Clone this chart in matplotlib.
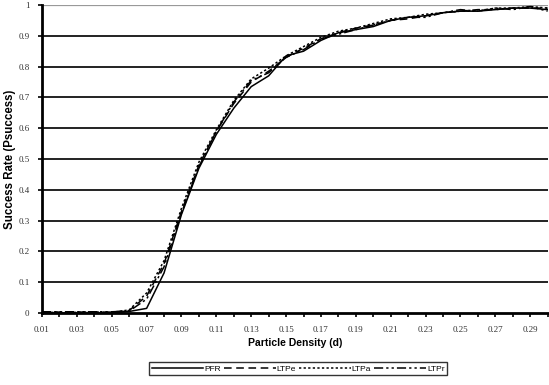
import matplotlib
matplotlib.use("Agg")
from matplotlib import pyplot as plt

# particle density d = 0.01 .. 0.30
density = [round(0.01 * i, 2) for i in range(1, 31)]

pfr = [0, 0, 0, 0, 0, 0.005, 0.015, 0.13, 0.32, 0.47,
       0.58, 0.665, 0.735, 0.77, 0.835, 0.85, 0.885, 0.91, 0.92, 0.93,
       0.95, 0.96, 0.965, 0.975, 0.98, 0.98, 0.985, 0.99, 0.99, 0.985]
ltpe = [0.003, 0.003, 0.003, 0.003, 0.003, 0.008, 0.055, 0.16, 0.33, 0.48,
        0.59, 0.68, 0.75, 0.785, 0.83, 0.86, 0.89, 0.91, 0.925, 0.935,
        0.95, 0.955, 0.965, 0.975, 0.98, 0.985, 0.985, 0.99, 0.99, 0.99]
ltpa = [0.002, 0.002, 0.002, 0.002, 0.002, 0.01, 0.065, 0.17, 0.34, 0.49,
        0.595, 0.69, 0.76, 0.795, 0.835, 0.865, 0.895, 0.915, 0.925, 0.94,
        0.955, 0.96, 0.97, 0.975, 0.98, 0.98, 0.99, 0.99, 0.995, 0.99]
ltpr = [0.004, 0.004, 0.004, 0.004, 0.004, 0.006, 0.045, 0.15, 0.325, 0.475,
        0.59, 0.685, 0.755, 0.78, 0.83, 0.855, 0.89, 0.905, 0.92, 0.935,
        0.95, 0.96, 0.96, 0.975, 0.985, 0.98, 0.99, 0.985, 0.995, 0.98]

xtick_vals = [0.01, 0.03, 0.05, 0.07, 0.09, 0.11, 0.13, 0.15, 0.17, 0.19,
              0.21, 0.23, 0.25, 0.27, 0.29]
ytick_vals = [0, 0.1, 0.2, 0.3, 0.4, 0.5, 0.6, 0.7, 0.8, 0.9, 1]
ytick_labels = ["0", "0.1", "0.2", "0.3", "0.4", "0.5", "0.6", "0.7", "0.8", "0.9", "1"]

fig = plt.figure(figsize=(5.49, 3.85), dpi=100)
ax = fig.add_axes([0.0765, 0.187, 0.921, 0.8])

for v in ytick_vals[1:-1]:
    ax.axhline(v, color="#222222", lw=1.4, zorder=1)
ax.axhline(1, color="#999999", lw=1.6, zorder=1)

ax.plot(density, pfr, color="black", lw=1.1, ls="-", label="PFR", zorder=3)
ax.plot(density, ltpe, color="black", lw=1.1, ls=(0, (5, 3)), label="LTPe", zorder=3)
ax.plot(density, ltpa, color="black", lw=1.1, ls=(0, (1.5, 1.5)), label="LTPa", zorder=3)
ax.plot(density, ltpr, color="black", lw=1.1, ls=(0, (6, 2, 1.5, 2, 1.5, 2)), label="LTPr", zorder=3)

ax.set_xlim(0.01, 0.2963)
ax.set_ylim(0, 1)
ax.set_xticks(xtick_vals)
ax.set_xticklabels(["%.2f" % v for v in xtick_vals])
ax.set_xticks(density, minor=True)
ax.set_yticks(ytick_vals)
ax.set_yticklabels(ytick_labels)

for side in ["top", "right"]:
    ax.spines[side].set_visible(False)
ax.spines["left"].set_linewidth(2)
ax.spines["bottom"].set_linewidth(2)
ax.tick_params(axis="both", which="both", direction="out", length=3, width=1.2, pad=6)
ax.tick_params(axis="x", which="minor", labelbottom=False)
for lab in ax.get_xticklabels() + ax.get_yticklabels():
    lab.set_fontfamily("Liberation Serif")
    lab.set_fontsize(6.5)
    lab.set_color("#333333")

ax.set_xlabel("Particle Density (d)", fontfamily="Liberation Sans", fontweight="bold", fontsize=7.5, labelpad=3)
ax.set_ylabel("Success Rate (Psuccess)", fontfamily="Liberation Sans", fontweight="bold", fontsize=8.3)
ax.yaxis.set_label_coords(-0.052, 0.5)

leg = fig.legend(loc="center", bbox_to_anchor=(0.543, 0.042), ncol=4, frameon=True,
                 fancybox=False, edgecolor="black", handlelength=6.2, handletextpad=0.1,
                 columnspacing=0.4, borderpad=0.3,
                 prop={"family": "Liberation Sans", "size": 6})
leg.get_frame().set_linewidth(1)

fig.savefig("out.png", dpi=100)
